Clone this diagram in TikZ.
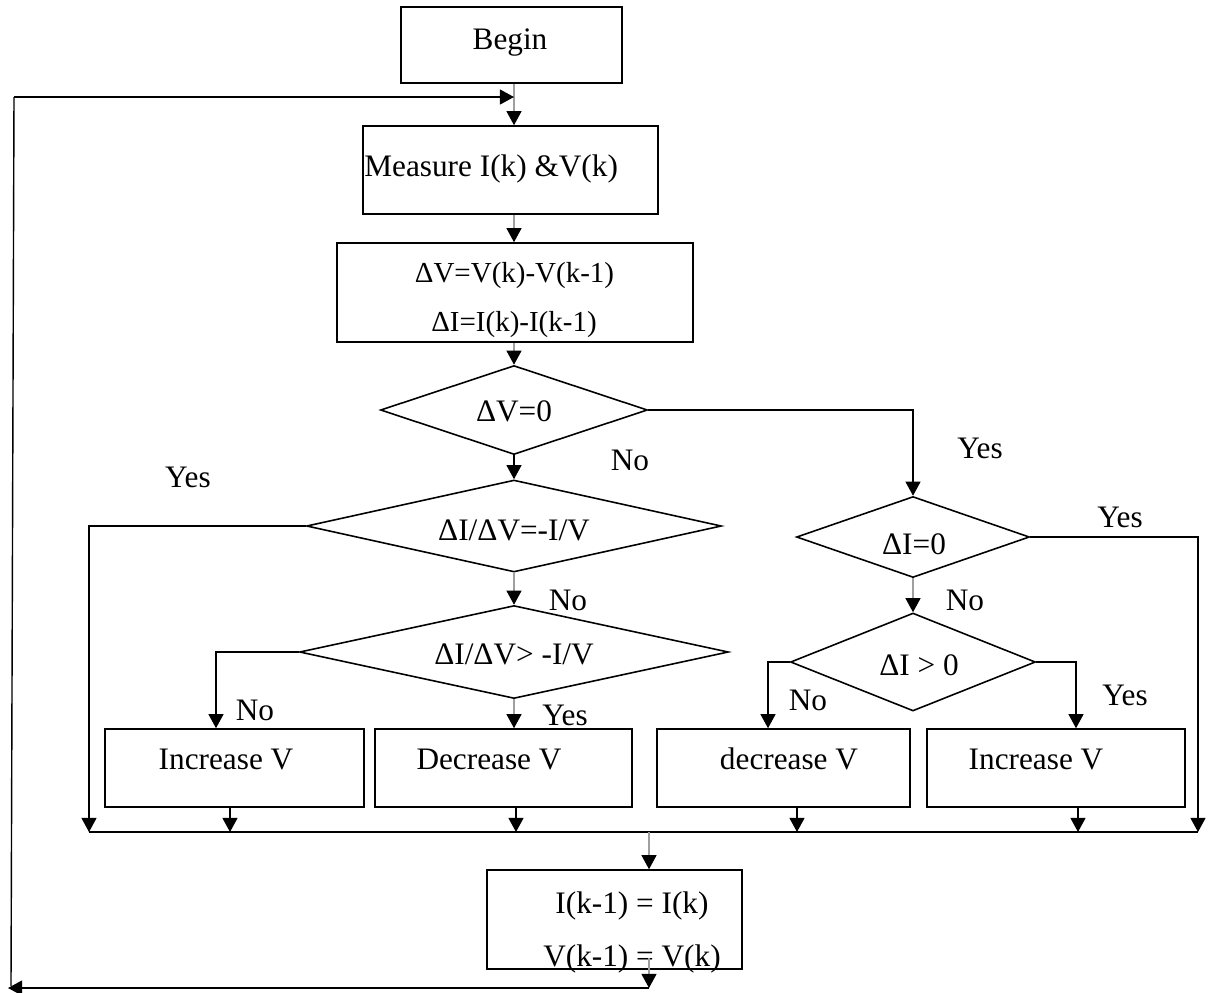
\documentclass[tikz,border=0pt]{standalone}
\usepackage{fontspec}
\setmainfont{Liberation Serif}
\usetikzlibrary{arrows.meta,shapes.geometric}
\begin{document}
\begin{tikzpicture}[x=0.02cm,y=-0.02cm,
  every node/.style={font=\fontsize{17.8}{21}\selectfont},
  box/.style={draw, line width=0.9pt, inner sep=0pt, minimum height=1.56cm},
  dec/.style={draw, diamond, line width=0.9pt, inner sep=0pt, aspect=4},
  txt/.style={anchor=base, inner sep=0pt},
  lbl/.style={inner sep=0pt},
  ln/.style={line width=0.8pt},
  arr/.style={ln, -{Triangle[length=8pt,width=8.5pt]}},
  garr/.style={ln, draw=gray!75, -{Triangle[length=8pt,width=8.5pt,color=black]}},
  gln/.style={ln, draw=gray!75}]
\useasboundingbox (0,0) rectangle (1208,992);
\coordinate (cx) at (514,0);
\coordinate (rx) at (913,0);

% boxes
\node[box, minimum width=4.42cm, minimum height=1.52cm] (begin) at (511.5,45) {};
\node[txt] (tbegin) at (510,49) {Begin};
\node[box, minimum width=5.9cm, minimum height=1.76cm] (meas) at (510.5,170) {};
\node[txt, anchor=base west] (tmeas) at (364,176) {Measure I(k) \&V(k)};
\node[box, minimum width=7.12cm, minimum height=1.98cm] (delta) at (515,292.5) {};
\node[txt, font=\fontsize{16.5}{20}\selectfont] (tdv) at (514.5,282) {ΔV=V(k)-V(k-1)};
\node[txt, font=\fontsize{16.5}{20}\selectfont] (tdi) at (514,331) {ΔI=I(k)-I(k-1)};

% decisions
\node[dec, minimum width=5.34cm, minimum height=1.78cm] (d1) at (514,410) {};
\node[txt] (td1) at (514,421) {ΔV=0};
\node[dec, minimum width=8.3cm, minimum height=1.84cm] (d2) at (514,526) {};
\node[txt] (td2) at (514,540) {ΔI/ΔV=-I/V};
\node[dec, minimum width=8.58cm, minimum height=1.86cm] (d3) at (514,652) {};
\node[txt] (td3) at (514,664) {ΔI/ΔV> -I/V};
\node[dec, minimum width=4.66cm, minimum height=1.62cm] (d4) at (913,537) {};
\node[txt] (td4) at (914,554) {ΔI=0};
\node[dec, minimum width=4.9cm, minimum height=1.96cm] (d5) at (913,662) {};
\node[txt] (td5) at (919,675) {ΔI > 0};

% action boxes
\node[box, minimum width=5.18cm] (b1) at (234.5,768) {};
\node[txt] (tb1) at (226,769) {Increase V};
\node[box, minimum width=5.14cm] (b2) at (503.5,768) {};
\node[txt] (tb2) at (489,769) {Decrease V};
\node[box, minimum width=5.06cm] (b3) at (783.5,768) {};
\node[txt] (tb3) at (789,769) {decrease V};
\node[box, minimum width=5.16cm] (b4) at (1056,768) {};
\node[txt] (tb4) at (1036,769) {Increase V};

% final box
\node[box, minimum width=5.1cm, minimum height=1.98cm] (fin) at (614.5,919.5) {};
\node[txt] (tf1) at (632,913) {I(k-1) = I(k)};
\node[txt] (tf2) at (632,966) {V(k-1) = V(k)};

% labels
\node[lbl] (l1) at (630,460) {No};
\node[lbl] (l2) at (980,448) {Yes};
\node[lbl] (l3) at (188,477) {Yes};
\node[lbl] (l4) at (568,600) {No};
\node[lbl] (l5) at (255,710) {No};
\node[lbl] (l6) at (565,715) {Yes};
\node[lbl] (l7) at (1120,517) {Yes};
\node[lbl] (l8) at (965,600) {No};
\node[lbl] (l9) at (808,700) {No};
\node[lbl] (l10) at (1125,695) {Yes};

% coordinates
\coordinate (busL) at (89,832);
\coordinate (busR) at (1198,832);
\coordinate (lt) at (14,97);
\coordinate (lb) at (11,986);
\coordinate (la) at (8,988);
\coordinate (fo) at (649,958);
\coordinate (fe) at (649,988);

% main spine
\draw[garr] (begin.south -| cx) -- (meas.north -| cx);
\draw[garr] (meas.south -| cx) -- (delta.north -| cx);
\draw[garr] (delta.south -| cx) -- (d1.north);
\draw[arr] (d1.south) -- (d2.north);
\draw[garr] (d2.south) -- (d3.north);
\draw[garr] (d3.south) -- (b2.north -| cx);
\draw[arr] (d3.west) -- (d3.west -| 216,0) -- (b1.north -| 216,0);

% right branch
\draw[arr] (d1.east) -- (d1.east -| rx) -- (d4.north);
\draw[garr] (d4.south) -- (d5.north);
\draw[arr] (d5.west) -- (d5.west -| 768,0) -- (b3.north -| 768,0);
\draw[arr] (d5.east) -- (d5.east -| 1076,0) -- (b4.north -| 1076,0);

% yes branches to bus
\draw[arr] (d2.west) -- (d2.west -| busL) -- (busL);
\draw[arr] (d4.east) -- (d4.east -| busR) -- (busR);

% bus
\draw[ln] (busL) -- (busR);
\draw[arr] (b1.south -| 230,0) -- (busL -| 230,0);
\draw[arr] (b2.south -| 516,0) -- (busL -| 516,0);
\draw[arr] (b3.south -| 797,0) -- (busL -| 797,0);
\draw[arr] (b4.south -| 1078,0) -- (busL -| 1078,0);
\draw[garr] (busL -| fe) -- (fin.north -| fe);

% loop back
\draw[garr] (fo) -- (fe);
\draw[arr] (fe) -- (la);
\draw[ln] (lb) -- (lt);
\draw[arr] (lt) -- (lt -| cx);
\end{tikzpicture}
\end{document}
